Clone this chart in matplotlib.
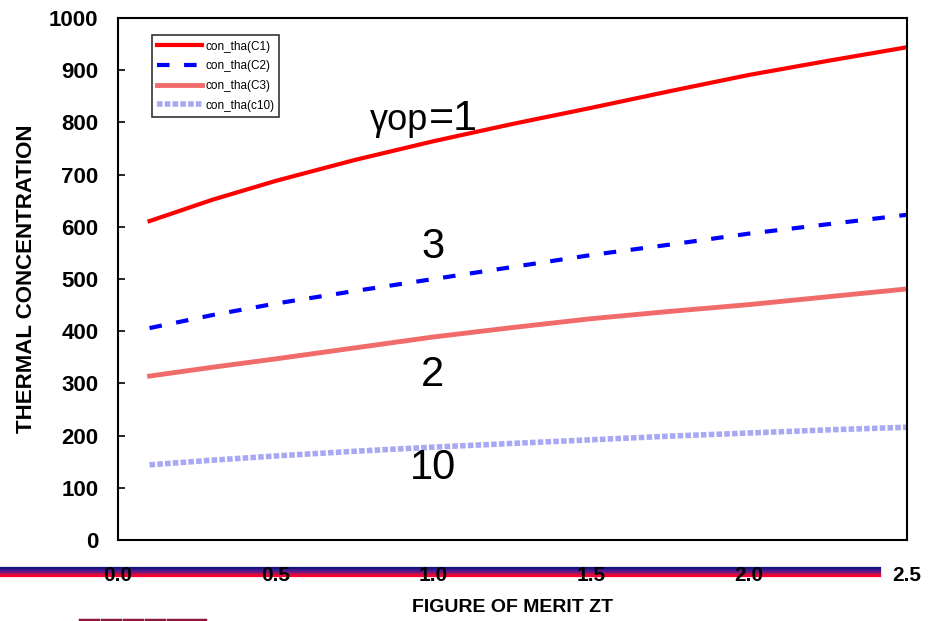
import numpy as np
import matplotlib
matplotlib.use("Agg")
import matplotlib.pyplot as plt
from matplotlib.lines import Line2D

# figure of merit ZT (x) and thermal concentration
zt = [0.1, 0.3, 0.5, 0.75, 1.0, 1.25, 1.5, 1.75, 2.0, 2.25, 2.5]
c1 = [611, 652, 688, 728, 764, 797, 828, 860, 891, 918, 944]
c2 = [406, 431, 453, 477, 500, 523, 546, 566, 587, 605, 623]
c3 = [314, 331, 347, 368, 389, 407, 424, 438, 451, 466, 481]
c10 = [144, 153, 161, 170, 178, 185, 192, 199, 205, 211, 216]

xticks = [0.0, 0.5, 1.0, 1.5, 2.0, 2.5]
yticks = [0, 100, 200, 300, 400, 500, 600, 700, 800, 900, 1000]

plt.rcParams['font.family'] = ['Liberation Sans', 'DejaVu Sans']

fig = plt.figure(figsize=(9.38, 6.21), dpi=100)
ax = fig.add_axes([118/938, 1-540/621, (907-118)/938, (540-18)/621])

ax.plot(zt, c1, color='#ff0000', lw=3, label='con_tha(C1)')
ax.plot(zt, c2, color='#0000ff', lw=3, ls=(0, (3, 3.5)), label='con_tha(C2)')
ax.plot(zt, c3, color='#f26b6b', lw=3.5, label='con_tha(C3)')
ax.plot(zt, c10, color='#a8a8f5', lw=4, ls=(0, (1, 0.4)), label='con_tha(c10)')

ax.set_xlim(0, 2.5)
ax.set_ylim(0, 1000)
ax.set_xticks(xticks)
ax.set_yticks(yticks)
ax.set_xticklabels([f"{v:.1f}" for v in xticks], fontweight='bold', fontsize=15)
ax.set_yticklabels([str(v) for v in yticks], fontweight='bold', fontsize=16)
ax.tick_params(axis='x', direction='in', length=0, pad=19)
ax.tick_params(axis='y', direction='in', length=5, width=1.2, pad=14)
for s in ax.spines.values():
    s.set_linewidth(1.5)

ax.set_ylabel('THERMAL CONCENTRATION', fontweight='bold', fontsize=16)
ax.yaxis.set_label_coords(-0.103, 0.5)
ax.set_xlabel('FIGURE OF MERIT ZT', fontweight='bold', fontsize=14, va='center')
ax.xaxis.set_label_coords(0.5, -68/522)

leg = ax.legend(loc='upper left', bbox_to_anchor=(0.043, 0.967), fontsize=8.5,
                frameon=True, fancybox=False, edgecolor='black', handlelength=3.8,
                handletextpad=0.25, borderpad=0.45, labelspacing=0.65, borderaxespad=0)
leg.get_frame().set_linewidth(1.2)

# curve labels
ax.text(0.984, 785, 'γop', ha='right', va='baseline', fontsize=26)
ax.text(0.984, 785, '=1', ha='left', va='baseline', fontsize=31)
ax.text(0.997, 561, '3', ha='center', va='center', fontsize=30)
ax.text(0.997, 316, '2', ha='center', va='center', fontsize=30)
ax.text(0.997, 138, '10', ha='center', va='center', fontsize=30)

# slide banner stripe behind the tick labels
band = ['#14147a', '#3a1a90', '#6a1a80', '#c0104a', '#ff0030']
for i, col in enumerate(band):
    y = 1 - (568 + 2*i)/621
    fig.add_artist(Line2D([0, 880/938], [y, y], color=col, lw=1.6, zorder=-1))

# logo fragment at the bottom edge
for x0, x1 in [(80, 98), (102, 120), (124, 142), (146, 164), (168, 205)]:
    fig.add_artist(Line2D([x0/938, x1/938], [1.5/621, 1.5/621], color='#8b1a3a', lw=2.5, zorder=-1))

fig.savefig('out.png', dpi=100)
